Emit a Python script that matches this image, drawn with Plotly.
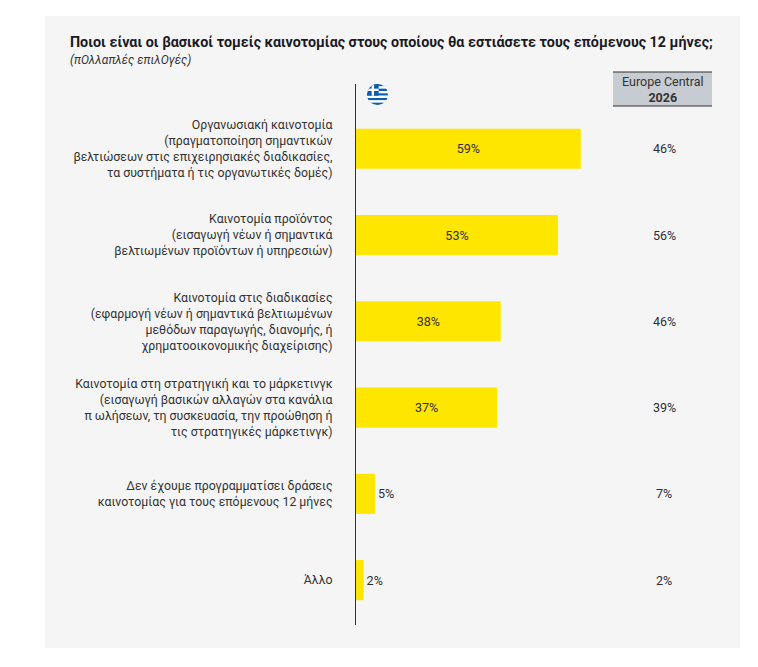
import base64
import plotly.graph_objects as go

categories = [
    "Οργανωσιακή καινοτομία<br>(πραγματοποίηση σημαντικών<br>βελτιώσεων στις επιχειρησιακές διαδικασίες,<br>τα συστήματα ή τις οργανωτικές δομές)",
    "Καινοτομία προϊόντος<br>(εισαγωγή νέων ή σημαντικά<br>βελτιωμένων προϊόντων ή υπηρεσιών)",
    "Καινοτομία στις διαδικασίες<br>(εφαρμογή νέων ή σημαντικά βελτιωμένων<br>μεθόδων παραγωγής, διανομής, ή<br>χρηματοοικονομικής διαχείρισης)",
    "Καινοτομία στη στρατηγική και το μάρκετινγκ<br>(εισαγωγή βασικών αλλαγών στα κανάλια<br>π ωλήσεων, τη συσκευασία, την προώθηση ή<br>τις στρατηγικές μάρκετινγκ)",
    "Δεν έχουμε προγραμματίσει δράσεις<br>καινοτομίας για τους επόμενους 12 μήνες",
    "Άλλο",
]
greece = [59, 53, 38, 37, 5, 2]
europe = [46, 56, 46, 39, 7, 2]

title_text = "Ποιοι είναι οι βασικοί τομείς καινοτομίας στους οποίους θα εστιάσετε τους επόμενους 12 μήνες;"
subtitle_text = "(πΟλλαπλές επιλΟγές)"
header_line1 = "Europe Central"
header_line2 = "2026"

OFF = 8  # page body margin
W, H = 758 - OFF, 667 - OFF
ML, MR, MT, MB = 356 - OFF, 18, 84 - OFF, 42
PW, PH = W - ML - MR, H - MT - MB
PX_PER_PCT = 3.81

def px_x(p):
    return (p - OFF - ML) / PW

def px_y(p):
    return (H - MB - (p - OFF)) / PH

FONT = "Roboto"
TXT = "#2e2e38"
YELLOW = "#FFE600"

fig = go.Figure()
fig.add_trace(go.Bar(
    y=categories, x=greece, orientation="h",
    marker=dict(color=YELLOW, line=dict(width=0)),
    width=0.465,
    text=[f"{v}%" for v in greece],
    textposition=["inside" if v > 15 else "outside" for v in greece],
    insidetextanchor="middle",
    textangle=0,
    cliponaxis=False,
    insidetextfont=dict(family=FONT, size=12.5, color=TXT),
    outsidetextfont=dict(family=FONT, size=12.5, color=TXT),
    hoverinfo="skip",
))

col_x = (664 - 356) / PX_PER_PCT
annotations = []
for c, v in zip(categories, europe):
    annotations.append(dict(x=col_x, y=c, xref="x", yref="y", text=f"{v}%",
                            showarrow=False, font=dict(family=FONT, size=12.5, color=TXT)))

annotations.append(dict(x=px_x(68), y=px_y(42), xref="paper", yref="paper",
                        text=f"<b>{title_text}</b>", showarrow=False,
                        xanchor="left", yanchor="middle",
                        font=dict(family=FONT, size=14.3, color="#1a1a24")))
annotations.append(dict(x=px_x(68), y=px_y(60), xref="paper", yref="paper",
                        text=f"<i>{subtitle_text}</i>", showarrow=False,
                        xanchor="left", yanchor="middle",
                        font=dict(family=FONT, size=12, color="#333333")))
annotations.append(dict(x=px_x(662.5), y=px_y(89), xref="paper", yref="paper",
                        text=f"{header_line1}<br><b>{header_line2}</b>", showarrow=False,
                        xanchor="center", yanchor="middle",
                        font=dict(family=FONT, size=12.5, color="#333333")))

shapes = [
    dict(type="rect", xref="paper", yref="paper", x0=px_x(45), x1=px_x(740),
         y0=px_y(648), y1=px_y(16), fillcolor="#f5f5f5", line=dict(width=0), layer="below"),
    dict(type="rect", xref="paper", yref="paper", x0=px_x(613), x1=px_x(712),
         y0=px_y(106), y1=px_y(72), fillcolor="#c7ccd2", line=dict(width=0), layer="below"),
    dict(type="line", xref="paper", yref="paper", x0=px_x(613), x1=px_x(712),
         y0=px_y(72), y1=px_y(72), line=dict(color="#333333", width=1.2)),
    dict(type="line", xref="paper", yref="paper", x0=px_x(613), x1=px_x(712),
         y0=px_y(106), y1=px_y(106), line=dict(color="#333333", width=1.2)),
]

# Greek flag (circular) as inline SVG
blue = "#0D5EAF"
stripes = "".join(
    f"<rect x='0' y='{i*3}' width='27' height='3' fill='{blue if i % 2 == 0 else '#ffffff'}'/>"
    for i in range(9)
)
svg = ("<svg xmlns='http://www.w3.org/2000/svg' viewBox='0 0 27 27'>"
       "<defs><clipPath id='c'><circle cx='13.5' cy='13.5' r='13.5'/></clipPath></defs>"
       f"<g clip-path='url(#c)'>{stripes}"
       f"<rect x='0' y='0' width='15' height='15' fill='{blue}'/>"
       "<rect x='6' y='0' width='3' height='15' fill='#ffffff'/>"
       "<rect x='0' y='6' width='15' height='3' fill='#ffffff'/></g></svg>")
flag_src = "data:image/svg+xml;base64," + base64.b64encode(svg.encode()).decode()

fig.update_layout(
    width=W, height=H,
    margin=dict(l=ML, r=MR, t=MT, b=MB, pad=0),
    paper_bgcolor="#ffffff", plot_bgcolor="rgba(0,0,0,0)",
    showlegend=False,
    annotations=annotations,
    shapes=shapes,
    images=[dict(source=flag_src, xref="paper", yref="paper",
                 x=px_x(367), y=px_y(84), sizex=21 / PW, sizey=21 / PH,
                 xanchor="left", yanchor="top", sizing="contain", layer="above")],
    xaxis=dict(range=[0, PW / PX_PER_PCT], visible=False, fixedrange=True),
    yaxis=dict(categoryorder="array", categoryarray=categories,
               range=[5.52, -0.75], showline=True, linecolor="#333333", linewidth=1,
               ticks="outside", ticklen=20, tickcolor="rgba(0,0,0,0)",
               showgrid=False, zeroline=False,
               tickfont=dict(family=FONT, size=12.3, color="#333333")),
    font=dict(family=FONT),
)

fig.write_html("out.html")
